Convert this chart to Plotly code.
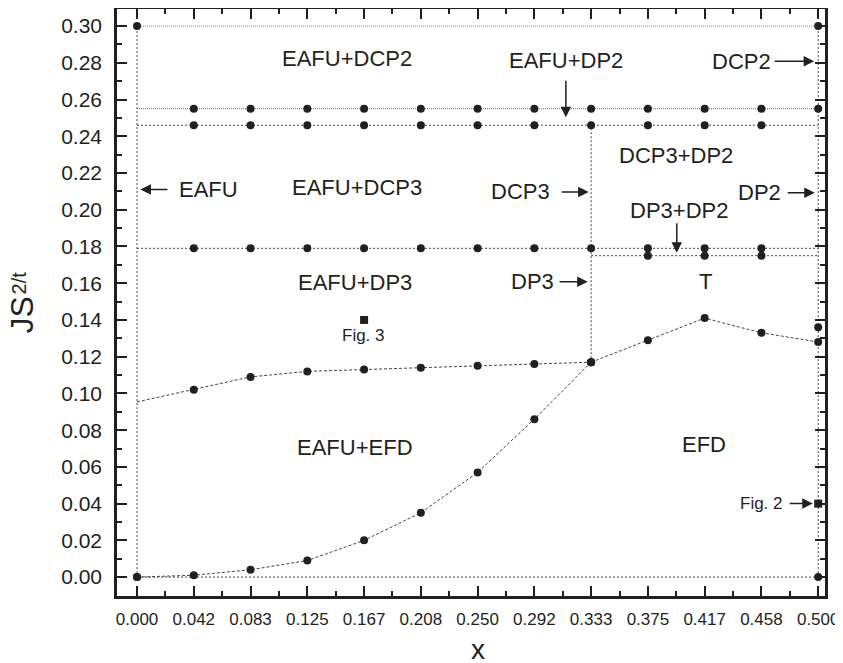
import plotly.graph_objects as go

# ---------------- data ----------------
x_grid = [0/24, 1/24, 2/24, 3/24, 4/24, 5/24, 6/24, 7/24, 8/24, 9/24, 10/24, 11/24, 12/24]
x_ticktext = ["0.000", "0.042", "0.083", "0.125", "0.167", "0.208", "0.250",
              "0.292", "0.333", "0.375", "0.417", "0.458", "0.500"]

# EAFU+EFD / EFD lower boundary (x = 0 ... 0.333)
efd_low_y = [0.000, 0.001, 0.004, 0.009, 0.020, 0.035, 0.057, 0.086, 0.117]
# EAFU+DP3 / EAFU+EFD boundary (x = 0 ... 0.333), first point has no marker
eafu_up_y = [0.0954, 0.102, 0.109, 0.112, 0.113, 0.114, 0.115, 0.116, 0.117]
# T / EFD boundary (x = 0.333 ... 0.500)
t_efd_y = [0.117, 0.129, 0.141, 0.133, 0.128]
extra_point = (0.5, 0.136)

row_top = 0.300
row_dcp2 = 0.255
row_dcp3 = 0.246
row_dp3 = 0.179
row_dp3dp2 = 0.175

fig3_point = (4/24, 0.140)
fig2_point = (12/24, 0.040)

# ---------------- figure ----------------
INK = "#231f20"
LINE = "#444444"
FONT = "Liberation Sans, Arial, sans-serif"

fig = go.Figure()

def line(xs, ys, color=LINE, dash="2px,2px", width=1):
    fig.add_trace(go.Scatter(x=xs, y=ys, mode="lines",
                             line=dict(color=color, width=width, dash=dash),
                             hoverinfo="skip", showlegend=False))

def pts(xs, ys, symbol="circle", size=8):
    fig.add_trace(go.Scatter(x=xs, y=ys, mode="markers",
                             marker=dict(color=INK, size=size, symbol=symbol,
                                         line=dict(width=0)),
                             showlegend=False))

x0, x_half, x_third = x_grid[0], x_grid[-1], x_grid[8]

# phase boundaries
line([x0, x_half], [row_top, row_top], color="#888888", dash="1px,1px")
line([x0, x_half], [row_dcp2, row_dcp2], color="#666666", dash="1px,1px")
line([x0, x_half], [row_dcp3, row_dcp3])
line([x0, x_half], [row_dp3, row_dp3])
line([x_third, x_half], [row_dp3dp2, row_dp3dp2])
line([x0, x_half], [0, 0])
line([x0, x0], [0, row_top])
line([x_half, x_half], [0, row_top])
line([x_third, x_third], [t_efd_y[0], row_dcp3])

# curves
line(x_grid[0:9], efd_low_y, dash="3px,2px")
line(x_grid[0:9], eafu_up_y, dash="3px,2px")
line(x_grid[8:13], t_efd_y, dash="3px,2px")

# markers
pts(x_grid[0:9], efd_low_y)
pts(x_grid[1:9], eafu_up_y[1:])
pts(x_grid[8:13], t_efd_y)
pts([extra_point[0]], [extra_point[1]])
pts(x_grid[1:13], [row_dcp2] * 12)
pts(x_grid[1:12], [row_dcp3] * 11)
pts(x_grid[1:12], [row_dp3] * 11)
pts(x_grid[9:12], [row_dp3dp2] * 3)
pts([x0, x_half, x0, x_half], [row_top, row_top, 0, 0])
pts([fig3_point[0], fig2_point[0]], [fig3_point[1], fig2_point[1]], symbol="square", size=8)

# ---------------- labels ----------------
labels = [
    ("EAFU+DCP2", 0.154, 0.2825, "center", 22),
    ("EAFU+DP2", 0.315, 0.281, "center", 22),
    ("DCP2", 0.4665, 0.2809, "right", 22),
    ("EAFU", 0.0294, 0.211, "left", 22),
    ("EAFU+DCP3", 0.1615, 0.2123, "center", 22),
    ("DCP3", 0.3045, 0.2097, "right", 22),
    ("DCP3+DP2", 0.3957, 0.2297, "center", 22),
    ("DP2", 0.4740, 0.2092, "right", 22),
    ("DP3+DP2", 0.398, 0.1994, "center", 22),
    ("EAFU+DP3", 0.160, 0.1602, "center", 22),
    ("DP3", 0.3072, 0.1611, "right", 22),
    ("T", 0.417, 0.1611, "center", 22),
    ("Fig. 3", 0.166, 0.1317, "center", 17),
    ("EAFU+EFD", 0.160, 0.0708, "center", 22),
    ("EFD", 0.4163, 0.0724, "center", 22),
    ("Fig. 2", 0.4760, 0.040, "right", 17),
]
for text, lx, ly, anchor, size in labels:
    fig.add_annotation(x=lx, y=ly, text=text, showarrow=False, xanchor=anchor,
                       yanchor="middle", font=dict(family=FONT, size=size, color=INK))

arrows = [  # (tail_x, tail_y, head_x, head_y)
    (0.3148, 0.2711, 0.3148, 0.2504),
    (0.4670, 0.2809, 0.4970, 0.2809),
    (0.0235, 0.2110, 0.0025, 0.2110),
    (0.3106, 0.2096, 0.3315, 0.2096),
    (0.4765, 0.2092, 0.4975, 0.2092),
    (0.3962, 0.1934, 0.3962, 0.1766),
    (0.3091, 0.1608, 0.3308, 0.1608),
    (0.4780, 0.0400, 0.4960, 0.0400),
]
for tx, ty, hx, hy in arrows:
    fig.add_annotation(x=hx, y=hy, ax=tx, ay=ty, axref="x", ayref="y",
                       xref="x", yref="y", text="", showarrow=True,
                       arrowhead=2, arrowsize=1.4, arrowwidth=1.5,
                       arrowcolor=INK, standoff=0, startstandoff=0)

# axis titles (placed as paper annotations)
fig.add_annotation(xref="paper", yref="paper", x=0.51, y=-0.0905, text="x",
                   showarrow=False, xanchor="center", yanchor="middle",
                   font=dict(family=FONT, size=28, color=INK))
fig.add_annotation(xref="paper", yref="paper", x=-0.1335, y=0.4787,
                   text="JS", textangle=-90,
                   showarrow=False, xanchor="center", yanchor="middle",
                   font=dict(family=FONT, size=32, color=INK))
fig.add_annotation(xref="paper", yref="paper", x=-0.1385, y=0.534,
                   text="2/t", textangle=-90,
                   showarrow=False, xanchor="center", yanchor="middle",
                   font=dict(family=FONT, size=20, color=INK))

minor_x = [(a + b) / 2 for a, b in zip(x_grid[:-1], x_grid[1:])]

# the page body adds an 8px offset, so the figure is sized/margined to compensate
fig.update_layout(
    width=835, height=655,
    margin=dict(l=109, r=18, t=1, b=67, autoexpand=False),
    paper_bgcolor="white", plot_bgcolor="white",
    font=dict(family=FONT, color=INK),
    showlegend=False,
    xaxis=dict(
        range=[-0.0147, 0.505], showgrid=False, zeroline=False, automargin=False,
        showline=True, linewidth=2.5, linecolor=INK, mirror="ticks",
        ticks="inside", ticklen=10, tickwidth=2, tickcolor=INK,
        tickvals=x_grid, ticktext=x_ticktext,
        tickfont=dict(size=17, family=FONT, color=INK),
        ticklabelstandoff=6, ticklabeloverflow="allow",
        minor=dict(tickvals=minor_x, ticks="inside", ticklen=5, tickwidth=2,
                   tickcolor=INK, showgrid=False),
    ),
    yaxis=dict(
        range=[-0.0103, 0.3093], showgrid=False, zeroline=False, automargin=False,
        showline=True, linewidth=2.5, linecolor=INK, mirror="ticks",
        ticks="inside", ticklen=10, tickwidth=2, tickcolor=INK,
        tick0=0, dtick=0.02, tickformat=".2f",
        tickfont=dict(size=21, family=FONT, color=INK),
        ticklabelstandoff=8,
        minor=dict(dtick=0.01, ticks="inside", ticklen=5, tickwidth=2,
                   tickcolor=INK, showgrid=False),
    ),
)

fig.write_html("out.html")
